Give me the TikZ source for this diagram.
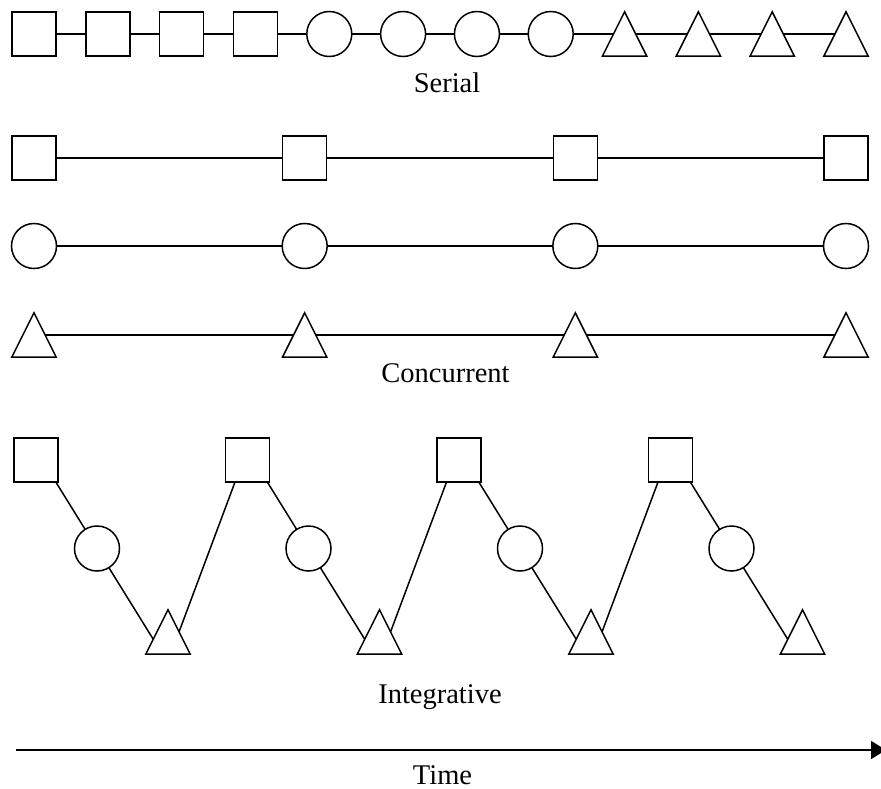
\documentclass[tikz,border=0pt]{standalone}
\usepackage{fontspec}
\setmainfont{Liberation Serif}
\usetikzlibrary{calc,arrows.meta}
\pgfdeclarelayer{wires}
\pgfsetlayers{wires,main}
\tikzset{
  sq/.style={rectangle, draw, fill=white, line width=1.5pt, minimum size=44pt, inner sep=0pt},
  ci/.style={circle, draw, fill=white, line width=1.5pt, minimum size=45pt, inner sep=0pt},
  tribox/.style={rectangle, minimum size=44pt, inner sep=0pt},
  tri/.style={fill=white, draw, line width=1.5pt, line join=miter},
  lbl/.style={anchor=base, font=\fontsize{28.5}{34}\selectfont},
  wire/.style={line width=1.5pt},
}
\begin{document}
\begin{tikzpicture}[x=1pt, y=-1pt]
\useasboundingbox (0,0) rectangle (881,789);

% ---------- Serial ----------
\foreach \i in {0,...,3} {
  \node[sq] (s\i) at ({34+73.82*\i},34) {};
}
\foreach \i in {4,...,7} {
  \node[ci] (s\i) at ({34+73.82*\i},34) {};
}
\foreach \i in {8,...,11} {
  \node[tribox] (s\i) at ({34+73.82*\i},34) {};
}
\begin{pgfonlayer}{wires}
  \draw[wire] (s0.center) -- (s11.center);
\end{pgfonlayer}
\node[lbl] (serial) at (447,93) {Serial};

% ---------- Concurrent ----------
\foreach \i in {0,...,3} {
  \node[sq] (ca\i) at ({34+270.67*\i},158) {};
  \node[ci] (cb\i) at ({34+270.67*\i},246) {};
  \node[tribox] (cc\i) at ({34+270.67*\i},335) {};
}
\begin{pgfonlayer}{wires}
  \draw[wire] (ca0.center) -- (ca3.center);
  \draw[wire] (cb0.center) -- (cb3.center);
  \draw[wire] (cc0.center) -- (cc3.center);
\end{pgfonlayer}
\node[lbl] (concurrent) at (445.5,382) {Concurrent};

% ---------- Integrative ----------
\foreach \i in {0,...,3} {
  \node[sq] (ia\i) at ({36+211.5*\i},460) {};
  \node[ci] (ib\i) at ({97+211.5*\i},548.5) {};
  \node[tribox] (ic\i) at ({168+211.5*\i},632) {};
}
\begin{pgfonlayer}{wires}
  \foreach \i in {0,...,3} {
    \coordinate (st\i) at ($(ia\i.south east)+(-2.5,0)$);
    \draw[wire] (st\i) -- ($(st\i)!2.4!(ib\i.center)$);
  }
  \foreach \i/\j in {0/1,1/2,2/3} {
    \draw[wire] ($(ic\i.center)+(11,0)$) -- ($(ia\j.south west)+(10,0)$);
  }
\end{pgfonlayer}
\node[lbl] (integrative) at (440,703) {Integrative};

% triangles drawn over their boxes
\foreach \t in {s8,s9,s10,s11,cc0,cc1,cc2,cc3,ic0,ic1,ic2,ic3} {
  \path[tri] (\t.south west) -- (\t.north) -- (\t.south east) -- cycle;
}

% ---------- Time axis ----------
\coordinate (t0) at (16,750);
\coordinate (t1) at (886,750);
\draw[line width=1.6pt, -{Triangle[length=15pt,width=18pt]}] (t0) -- (t1);
\node[lbl] (time) at (442.5,784) {Time};
\end{tikzpicture}
\end{document}
